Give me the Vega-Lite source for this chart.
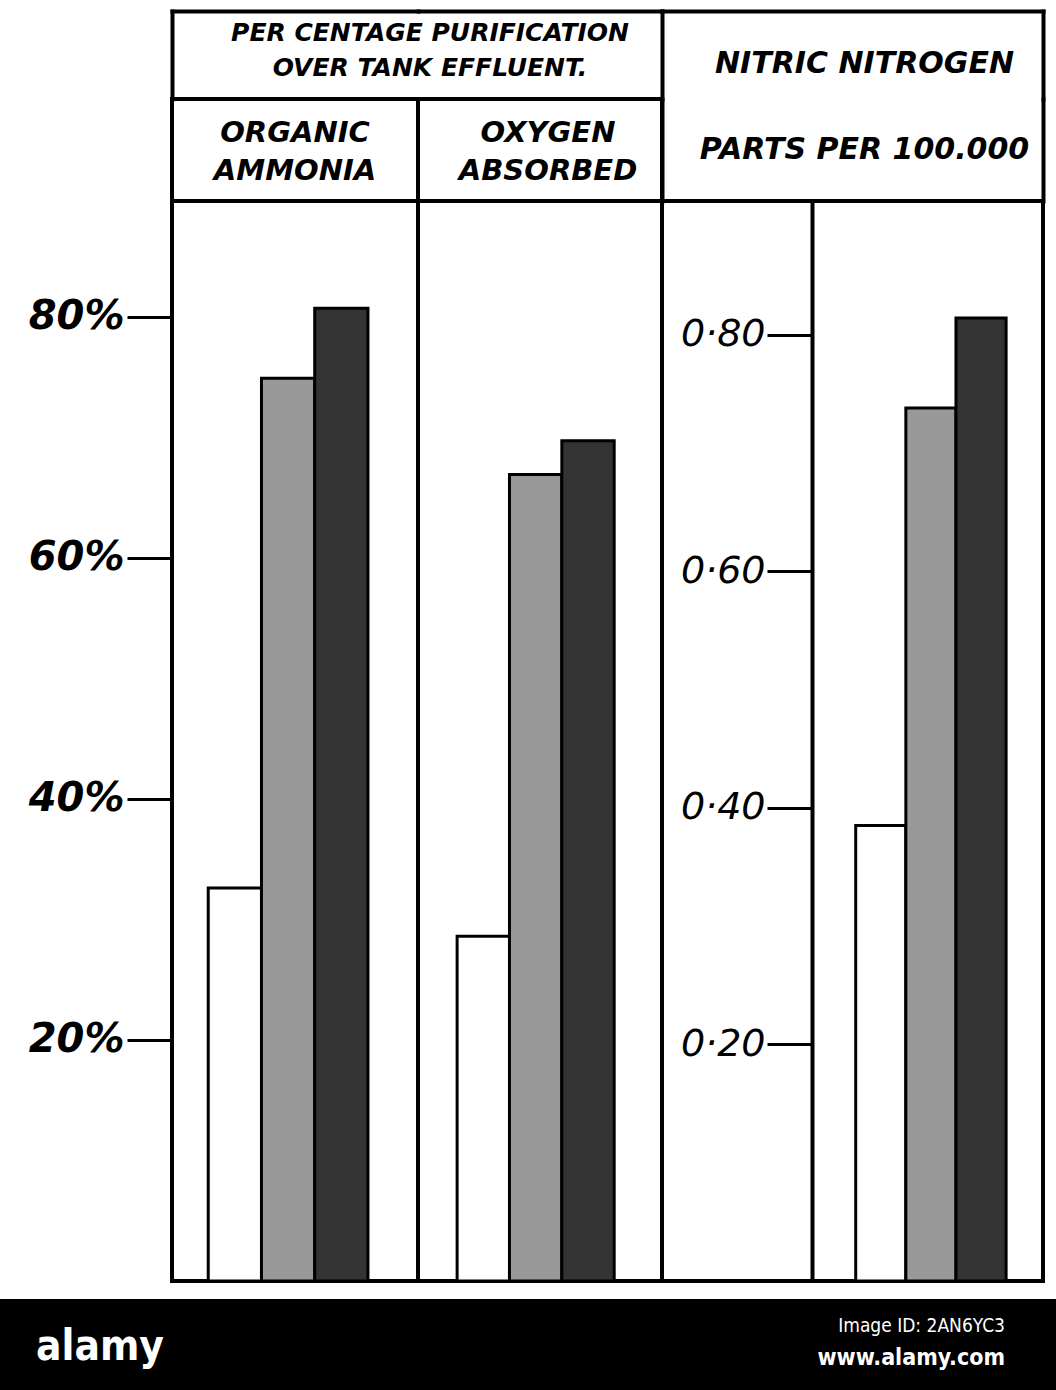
{
  "$schema": "https://vega.github.io/schema/vega-lite/v6.json",
  "padding": {"top": 11, "left": 0, "right": 0, "bottom": 0},
  "background": "white",
  "config": {
    "view": {"stroke": "black", "strokeWidth": 4},
    "axis": {"grid": false, "title": null},
    "text": {"font": "DejaVu Sans", "fontWeight": "bold", "fontStyle": "italic", "color": "black"}
  },
  "datasets": {
    "bars": [
      {"panel": "organic", "series": "A", "value": 32.6},
      {"panel": "organic", "series": "B", "value": 74.9},
      {"panel": "organic", "series": "C", "value": 80.7},
      {"panel": "oxygen", "series": "A", "value": 28.6},
      {"panel": "oxygen", "series": "B", "value": 66.9},
      {"panel": "oxygen", "series": "C", "value": 69.7},
      {"panel": "nitric", "series": "A", "value": 0.385},
      {"panel": "nitric", "series": "B", "value": 0.738},
      {"panel": "nitric", "series": "C", "value": 0.814}
    ]
  },
  "spacing": 14,
  "vconcat": [
    {
      "columns": 5,
      "bounds": "flush",
      "spacing": 0,
      "align": "each",
      "concat": [
        {
          "width": 172, "height": 88,
          "view": {"stroke": null},
          "data": {"values": [{"t": ""}]},
          "mark": {"type": "text"},
          "encoding": {"text": {"field": "t"}}
        },
        {
          "width": 246, "height": 88,
          "view": {"stroke": null},
          "data": {"values": [{"t": ["PER CENTAGE PURIFICATION", "OVER TANK EFFLUENT."]}]},
          "mark": {"type": "text", "fontSize": 25, "lineHeight": 35, "baseline": "middle", "dx": 12, "dy": -22},
          "encoding": {
            "x": {"datum": 1, "type": "quantitative", "scale": {"domain": [0, 1], "nice": false},
                  "axis": {"orient": "top", "domain": true, "domainColor": "black", "domainWidth": 4, "domainCap": "square", "ticks": false, "labels": false, "title": null}},
            "y": {"datum": 0.5, "type": "quantitative", "scale": {"domain": [0, 1], "nice": false},
                  "axis": {"orient": "left", "domain": true, "domainColor": "black", "domainWidth": 4, "domainCap": "square", "ticks": false, "labels": false, "title": null}},
            "text": {"field": "t"}
          }
        },
        {
          "width": 244, "height": 88,
          "view": {"stroke": null},
          "data": {"values": [{"t": ""}]},
          "mark": {"type": "text"},
          "encoding": {
            "x": {"datum": 0, "type": "quantitative", "scale": {"domain": [0, 1], "nice": false},
                  "axis": {"orient": "top", "domain": true, "domainColor": "black", "domainWidth": 4, "domainCap": "square", "ticks": false, "labels": false, "title": null}},
            "text": {"field": "t"}
          }
        },
        {
          "width": 381, "height": 88,
          "view": {"stroke": null},
          "data": {"values": [{"t": "NITRIC NITROGEN"}]},
          "mark": {"type": "text", "fontSize": 30, "baseline": "middle", "dx": 12, "dy": 9},
          "encoding": {
            "x": {"datum": 0.5, "type": "quantitative", "scale": {"domain": [0, 1], "nice": false},
                  "axis": {"orient": "top", "domain": true, "domainColor": "black", "domainWidth": 4, "domainCap": "square", "ticks": false, "labels": false, "title": null}},
            "y": {"datum": 0.5, "type": "quantitative", "scale": {"domain": [0, 1], "nice": false},
                  "axis": {"orient": "left", "domain": true, "domainColor": "black", "domainWidth": 4, "domainCap": "square", "ticks": false, "labels": false, "title": null}},
            "text": {"field": "t"}
          }
        },
        {
          "width": 13, "height": 88,
          "view": {"stroke": null},
          "data": {"values": [{"t": ""}]},
          "mark": {"type": "text"},
          "encoding": {
            "y": {"datum": 0.5, "type": "quantitative", "scale": {"domain": [0, 1], "nice": false},
                  "axis": {"orient": "left", "domain": true, "domainColor": "black", "domainWidth": 4, "domainCap": "square", "ticks": false, "labels": false, "title": null}},
            "text": {"field": "t"}
          }
        },
        {
          "width": 172, "height": 102,
          "view": {"stroke": null},
          "data": {"values": [{"t": ""}]},
          "mark": {"type": "text"},
          "encoding": {"text": {"field": "t"}}
        },
        {
          "width": 246, "height": 102,
          "view": {"stroke": "black", "strokeWidth": 4},
          "data": {"values": [{"t": ["ORGANIC", "AMMONIA"]}]},
          "layer": [
            {
              "mark": {"type": "text", "fontSize": 29, "lineHeight": 38, "baseline": "middle", "dy": -17},
              "encoding": {"text": {"field": "t"}}
            }
          ]
        },
        {
          "width": 244, "height": 102,
          "view": {"stroke": "black", "strokeWidth": 4},
          "data": {"values": [{"t": ["OXYGEN", "ABSORBED"]}]},
          "layer": [
            {
              "mark": {"type": "text", "fontSize": 29, "lineHeight": 38, "baseline": "middle", "dx": 8, "dy": -17},
              "encoding": {"text": {"field": "t"}}
            }
          ]
        },
        {
          "width": 381, "height": 102,
          "view": {"stroke": null},
          "data": {"values": [{"t": "PARTS PER 100.000"}]},
          "mark": {"type": "text", "fontSize": 30, "baseline": "middle", "dx": 12, "dy": 0},
          "encoding": {
            "y": {"datum": 0.5, "type": "quantitative", "scale": {"domain": [0, 1], "nice": false},
                  "axis": {"orient": "left", "domain": true, "domainColor": "black", "domainWidth": 4, "domainCap": "square", "ticks": false, "labels": false, "title": null}},
            "text": {"field": "t"}
          }
        },
        {
          "width": 13, "height": 102,
          "view": {"stroke": null},
          "data": {"values": [{"t": ""}]},
          "mark": {"type": "text"},
          "encoding": {
            "y": {"datum": 0.5, "type": "quantitative", "scale": {"domain": [0, 1], "nice": false},
                  "axis": {"orient": "left", "domain": true, "domainColor": "black", "domainWidth": 4, "domainCap": "square", "ticks": false, "labels": false, "title": null}},
            "text": {"field": "t"}
          }
        },
        {
          "width": 172, "height": 1080,
          "view": {"stroke": null},
          "data": {"name": "bars"},
          "transform": [{"filter": "datum.panel === 'organic'"}],
          "mark": {"type": "rule", "opacity": 0},
          "encoding": {
            "y": {"field": "value", "type": "quantitative",
                  "scale": {"domain": [0, 89.6], "nice": false},
                  "axis": {"values": [20, 40, 60, 80], "labelExpr": "datum.value + '%'", "offset": -172,
                           "tickSize": 45, "tickWidth": 3, "tickColor": "black", "domain": false,
                           "labelFont": "DejaVu Sans", "labelFontSize": 40, "labelFontWeight": "bold",
                           "labelFontStyle": "italic", "labelColor": "black", "labelPadding": 3}}
          }
        },
        {
          "width": 246, "height": 1080,
          "data": {"name": "bars"},
          "transform": [{"filter": "datum.panel === 'organic'"}],
          "mark": {"type": "bar", "stroke": "black", "strokeWidth": 3},
          "encoding": {
            "x": {"field": "series", "type": "nominal", "axis": null,
                  "scale": {"paddingInner": 0, "paddingOuter": 0.81, "align": 0.42}},
            "y": {"field": "value", "type": "quantitative",
                  "scale": {"domain": [0, 89.6], "nice": false}, "axis": null},
            "fill": {"field": "series", "type": "nominal",
                     "scale": {"domain": ["A", "B", "C"], "range": ["white", "#999999", "#333333"]},
                     "legend": null}
          }
        },
        {
          "width": 244, "height": 1080,
          "data": {"name": "bars"},
          "transform": [{"filter": "datum.panel === 'oxygen'"}],
          "mark": {"type": "bar", "stroke": "black", "strokeWidth": 3},
          "encoding": {
            "x": {"field": "series", "type": "nominal", "axis": null,
                  "scale": {"paddingInner": 0, "paddingOuter": 0.83, "align": 0.45}},
            "y": {"field": "value", "type": "quantitative",
                  "scale": {"domain": [0, 89.6], "nice": false}, "axis": null},
            "fill": {"field": "series", "type": "nominal",
                     "scale": {"domain": ["A", "B", "C"], "range": ["white", "#999999", "#333333"]},
                     "legend": null}
          }
        },
        {
          "width": 381, "height": 1080,
          "data": {"name": "bars"},
          "transform": [{"filter": "datum.panel === 'nitric'"}],
          "mark": {"type": "bar", "stroke": "black", "strokeWidth": 3},
          "encoding": {
            "x": {"field": "series", "type": "nominal", "axis": null,
                  "scale": {"domain": ["p1", "p2", "p3", "A", "B", "C"], "paddingInner": 0, "paddingOuter": 0.8, "align": 0.54}},
            "y": {"field": "value", "type": "quantitative",
                  "scale": {"domain": [0, 0.913], "nice": false},
                  "axis": {"values": [0.2, 0.4, 0.6, 0.8], "format": ".2f",
                           "labelExpr": "replace(datum.label, '.', '·')",
                           "offset": -150, "domain": true, "domainColor": "black", "domainWidth": 4,
                           "tickSize": 45, "tickWidth": 3, "tickColor": "black",
                           "labelFont": "DejaVu Sans", "labelFontSize": 38, "labelFontWeight": "normal",
                           "labelFontStyle": "italic", "labelColor": "black", "labelPadding": 2}},
            "fill": {"field": "series", "type": "nominal",
                     "scale": {"domain": ["A", "B", "C"], "range": ["white", "#999999", "#333333"]},
                     "legend": null}
          }
        },
        {
          "width": 13, "height": 1080,
          "view": {"stroke": null},
          "data": {"values": [{"t": ""}]},
          "mark": {"type": "text"},
          "encoding": {"text": {"field": "t"}}
        }
      ]
    },
    {
      "width": 1056, "height": 92,
      "view": {"stroke": null, "fill": "black"},
      "data": {"values": [{"logo": "alamy", "id": "Image ID: 2AN6YC3", "url": "www.alamy.com"}]},
      "layer": [
        {
          "mark": {"type": "text", "font": "DejaVu Sans Condensed, Liberation Sans Narrow, Liberation Sans", "fontStyle": "normal",
                   "fontWeight": "bold", "fontSize": 42, "color": "white", "align": "center", "baseline": "alphabetic",
                   "dx": -428, "dy": 15},
          "encoding": {"text": {"field": "logo"}}
        },
        {
          "mark": {"type": "text", "font": "DejaVu Sans Condensed, Liberation Sans Narrow, Liberation Sans", "fontStyle": "normal",
                   "fontWeight": "normal", "fontSize": 19, "color": "white", "align": "right", "baseline": "alphabetic",
                   "dx": 477, "dy": -13},
          "encoding": {"text": {"field": "id"}}
        },
        {
          "mark": {"type": "text", "font": "DejaVu Sans Condensed, Liberation Sans Narrow, Liberation Sans", "fontStyle": "normal",
                   "fontWeight": "bold", "fontSize": 23, "color": "white", "align": "right", "baseline": "alphabetic",
                   "dx": 477, "dy": 20},
          "encoding": {"text": {"field": "url"}}
        }
      ]
    }
  ]
}
